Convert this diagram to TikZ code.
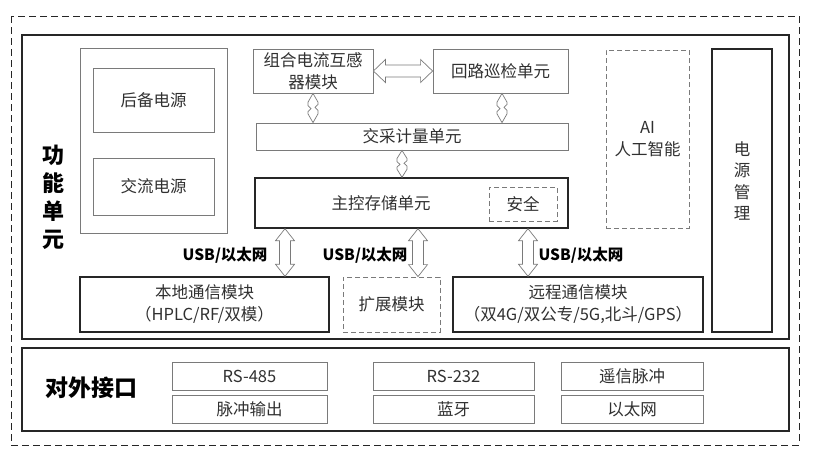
\documentclass[tikz,border=0pt]{standalone}
\usepackage{fontspec}
\setmainfont{Noto Sans CJK SC}
\usetikzlibrary{calc}

\definecolor{txt}{HTML}{303030}
\definecolor{thin}{HTML}{7A7A7A}

\tikzset{
  box/.style={draw=thin, line width=0.8pt, inner sep=0pt, text=txt, font=\fontsize{16.5}{22}\selectfont, align=center},
  thickbox/.style={box, draw=black!85, line width=1.4pt},
  dashbox/.style={box, dash pattern=on 5pt off 3pt},
  bigbox/.style={draw=black!85, line width=1.4pt, inner sep=0pt},
  title/.style={text=black, font=\fontsize{22}{28}\selectfont\bfseries, align=center},
  usb/.style={text=black, font=\fontsize{15.5}{17}\selectfont\bfseries},
  hollow/.style={draw=thin, line width=0.7pt, fill=white, line join=miter}
}

% hollow double arrow from #1 to #2, half head width #3, half shaft width #4
\newcommand{\hollowarrow}[4]{%
  \path #1 coordinate (ha) #2 coordinate (hb);
  \path ($(ha)!12pt!(hb)$) coordinate (h1) ($(hb)!12pt!(ha)$) coordinate (h2);
  \draw[hollow] (ha) -- ($(h1)!#3!90:(hb)$) -- ($(h1)!#4!90:(hb)$)
    -- ($(h2)!#4!-90:(ha)$) -- ($(h2)!#3!-90:(ha)$) -- (hb)
    -- ($(h2)!#3!90:(ha)$) -- ($(h2)!#4!90:(ha)$)
    -- ($(h1)!#4!-90:(hb)$) -- ($(h1)!#3!-90:(hb)$) -- cycle;
}

% hollow arrow with a kink in the middle, from #1 (top) to #2 (bottom)
\newcommand{\zigarrow}[2]{%
  \path #1 coordinate (za) #2 coordinate (zb);
  \draw[hollow] (za) -- ($(za)!0.3!(zb)+(-5,0)$) -- ($(za)!0.42!(zb)+(-5,0)$)
    -- ($(za)!0.52!(zb)+(-2,0)$) -- ($(za)!0.62!(zb)+(-5,0)$) -- ($(za)!0.7!(zb)+(-5,0)$)
    -- (zb) -- ($(za)!0.7!(zb)+(5,0)$) -- ($(za)!0.58!(zb)+(5,0)$)
    -- ($(za)!0.48!(zb)+(2,0)$) -- ($(za)!0.38!(zb)+(5,0)$) -- ($(za)!0.3!(zb)+(5,0)$) -- cycle;
}

\begin{document}
\begin{tikzpicture}[x=1pt, y=-1pt]
  \useasboundingbox (0,0) rectangle (814,459);

  % outer frame
  \draw[black!85, line width=1pt, dash pattern=on 7pt off 4pt] (11,16) rectangle (799,445);

  % function unit and interface frames
  \node[bigbox, minimum width=767pt, minimum height=304pt] (func) at (405.5,187) {};
  \node[bigbox, minimum width=767pt, minimum height=83pt] (iface) at (405.5,389.5) {};
  \node[title] (functitle) at (53,197) {功\\能\\单\\元};
  \node[title, font=\fontsize{23}{28}\selectfont\bfseries] (ifacetitle) at (91,388) {对外接口};

  % power supplies
  \node[box, minimum width=147pt, minimum height=185pt] (pwrgrp) at (153.5,140.5) {};
  \node[box, minimum width=121pt, minimum height=64pt] (backup) at (153.5,100) {后备电源};
  \node[box, minimum width=121pt, minimum height=57pt] (acpwr) at (153.5,186.5) {交流电源};

  % measuring chain
  \node[box, minimum width=120pt, minimum height=44pt] (ct) at (313,71) {组合电流互感\\器模块};
  \node[box, minimum width=135pt, minimum height=44pt] (loop) at (500.5,71) {回路巡检单元};
  \node[box, minimum width=312pt, minimum height=27pt] (meter) at (412,136.5) {交采计量单元};
  \node[thickbox, minimum width=313pt, minimum height=50pt] (mcu) at (411.5,203) {};
  \node[text=txt, font=\fontsize{16.5}{22}\selectfont] (mculabel) at (381,203) {主控存储单元};
  \node[dashbox, minimum width=68pt, minimum height=34pt] (sec) at (523,204) {安全};

  % right column
  \node[dashbox, minimum width=83pt, minimum height=178pt] (ai) at (647.5,139) {AI\\人工智能};
  \node[thickbox, minimum width=60pt, minimum height=283pt] (pm) at (742,190.5) {};
  \node[text=txt, font=\fontsize{16.5}{21.5}\selectfont, align=center] (pmlabel) at (742,181) {电\\源\\管\\理};

  % communication modules
  \node[thickbox, minimum width=249pt, minimum height=55pt] (local) at (204.5,304.5) {本地通信模块\\（HPLC/RF/双模）};
  \node[dashbox, minimum width=97pt, minimum height=55pt] (ext) at (391.5,304.5) {扩展模块};
  \node[thickbox, minimum width=250pt, minimum height=55pt] (remote) at (578,304.5) {远程通信模块\\（双4G/双公专/5G,北斗/GPS）};

  % external interfaces
  \node[box, minimum width=155pt, minimum height=28pt] (rs485) at (249.5,376) {RS-485};
  \node[box, minimum width=155pt, minimum height=28pt] (pulse) at (249.5,409) {脉冲输出};
  \node[box, minimum width=161pt, minimum height=28pt] (rs232) at (453.5,376) {RS-232};
  \node[box, minimum width=161pt, minimum height=28pt] (bt) at (453.5,409) {蓝牙};
  \node[box, minimum width=142pt, minimum height=28pt] (tele) at (632,376) {遥信脉冲};
  \node[box, minimum width=142pt, minimum height=28pt] (eth) at (632,409) {以太网};

  % arrows
  \hollowarrow{(ct.east)}{(loop.west)}{11.5pt}{6pt}
  \zigarrow{(ct.south)}{(ct.south |- meter.north)}
  \zigarrow{([xshift=1.5pt]loop.south)}{([xshift=1.5pt]loop.south |- meter.north)}
  \zigarrow{([xshift=-10pt]meter.south)}{([xshift=-10pt]meter.south |- mcu.north)}

  \coordinate (u1) at ([xshift=80.5pt]local.north);
  \coordinate (u2) at ([xshift=26.5pt]ext.north);
  \coordinate (u3) at ([xshift=-50pt]remote.north);
  \hollowarrow{(u1 |- mcu.south)}{(u1)}{9.5pt}{5.5pt}
  \hollowarrow{(u2 |- mcu.south)}{(u2)}{9.5pt}{5.5pt}
  \hollowarrow{(u3 |- mcu.south)}{(u3)}{9.5pt}{5.5pt}
  \node[usb, anchor=east] (usb1) at (271,255) {USB/以太网};
  \node[usb, anchor=east] (usb2) at (411,255) {USB/以太网};
  \node[usb, anchor=west] (usb3) at (535,255) {USB/以太网};
\end{tikzpicture}
\end{document}
